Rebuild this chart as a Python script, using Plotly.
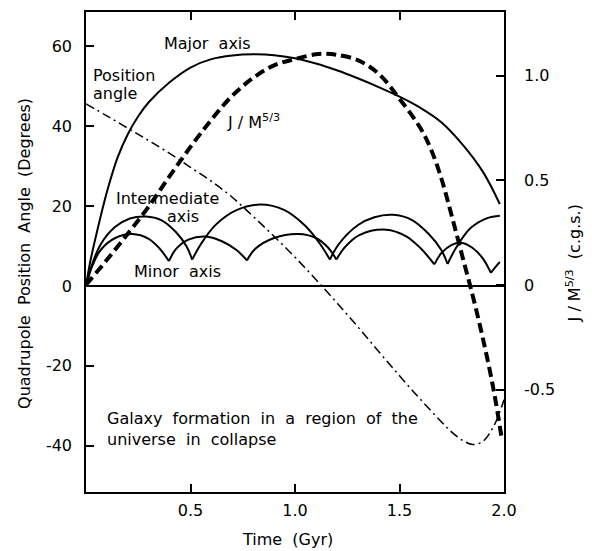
import plotly.graph_objects as go

# ---- data ----
major_x = [0, 0.02, 0.05, 0.1, 0.15, 0.2, 0.25, 0.3, 0.4, 0.5, 0.6, 0.7, 0.8, 0.9, 1.0, 1.1, 1.2, 1.3, 1.4, 1.5, 1.6, 1.7, 1.8, 1.9, 1.98]
major_y = [0, 6, 13, 23.5, 32, 38, 42.5, 46, 51, 54.7, 56.8, 57.7, 58, 57.8, 57, 55.7, 54, 52, 49.8, 47.4, 44.6, 41, 35.5, 28.5, 20.5]

# intermediate axis: arcs between cusps
inter_arcs_x = [
    [0, 0.03, 0.07, 0.14, 0.21, 0.286, 0.36, 0.43, 0.48, 0.508],
    [0.508, 0.55, 0.62, 0.72, 0.833, 0.95, 1.05, 1.12, 1.167],
    [1.167, 1.21, 1.3, 1.38, 1.468, 1.56, 1.64, 1.7, 1.73],
    [1.73, 1.77, 1.84, 1.92, 1.98],
]
inter_arcs_y = [
    [0, 5.5, 10.4, 14.8, 16.9, 17.4, 16.5, 13.5, 10, 6.6],
    [6.6, 10.5, 15.3, 19, 20.4, 19, 15, 10.5, 6.6],
    [6.6, 10.5, 15.2, 17.2, 17.8, 16.5, 13, 9, 5.5],
    [5.5, 9.5, 14.5, 17, 17.6],
]

# minor axis: arcs between cusps
minor_arcs_x = [
    [0, 0.03, 0.07, 0.14, 0.222, 0.3, 0.35, 0.397],
    [0.397, 0.43, 0.49, 0.571, 0.65, 0.72, 0.77],
    [0.77, 0.81, 0.9, 1.016, 1.1, 1.16, 1.198],
    [1.198, 1.24, 1.31, 1.436, 1.53, 1.6, 1.667],
    [1.667, 1.7, 1.75, 1.794, 1.85, 1.9, 1.937],
    [1.937, 1.96, 1.98],
]
minor_arcs_y = [
    [0, 5, 9, 12, 13.0, 11.8, 9.5, 6.2],
    [6.2, 9.2, 11.6, 12.4, 11.2, 9, 6.4],
    [6.4, 9.3, 12, 13.0, 12, 9.5, 6.6],
    [6.6, 9.8, 12.8, 14.1, 12.5, 9.5, 5.4],
    [5.4, 8.2, 10.3, 10.8, 9.5, 6.8, 3.3],
    [3.3, 4.8, 6],
]

pos_x = [0, 0.1, 0.2, 0.3, 0.4, 0.5, 0.6, 0.7, 0.8, 0.9, 1.0, 1.1, 1.2, 1.3, 1.4, 1.5, 1.6, 1.7, 1.75, 1.8, 1.85, 1.9, 1.95, 1.98, 2.0]
pos_y = [45.6, 42.6, 39.5, 36.4, 33.2, 29.7, 26.2, 22.2, 17.4, 12.4, 7.2, 1.6, -4.2, -10.2, -16.4, -22.5, -28.4, -34.0, -36.6, -38.6, -39.7, -38.9, -35.2, -31.5, -28.5]

j_x = [0, 0.1, 0.2, 0.3, 0.4, 0.5, 0.6, 0.7, 0.8, 0.9, 1.0, 1.1, 1.15, 1.2, 1.3, 1.4, 1.5, 1.6, 1.65, 1.7, 1.75, 1.8, 1.85, 1.9, 1.95, 1.99]
j_y = [0, 0.12, 0.245, 0.375, 0.52, 0.66, 0.79, 0.905, 0.99, 1.05, 1.08, 1.103, 1.105, 1.10, 1.075, 1.01, 0.89, 0.75, 0.65, 0.51, 0.33, 0.14, -0.05, -0.26, -0.5, -0.74]

x_ticks = [0.5, 1.0, 1.5, 2.0]
x_ticklabels = ["0.5", "1.0", "1.5", "2.0"]
yl_ticks = [-40, -20, 0, 20, 40, 60]
yl_ticklabels = ["-40", "-20", "0", "20", "40", "60"]
yr_ticks = [-0.5, 0, 0.5, 1.0]
yr_ticklabels = ["-0.5", "0", "0.5", "1.0"]


def join(arcs):
    out = []
    for i, a in enumerate(arcs):
        if i:
            out.append(None)
        out.extend(a)
    return out


FONT = "DejaVu Sans"
solid = dict(color="black", width=2)

fig = go.Figure()
fig.add_trace(go.Scatter(x=major_x, y=major_y, mode="lines", line=dict(shape="spline", **solid)))
fig.add_trace(go.Scatter(x=join(inter_arcs_x), y=join(inter_arcs_y), mode="lines",
                         line=dict(shape="spline", **solid), connectgaps=False))
fig.add_trace(go.Scatter(x=join(minor_arcs_x), y=join(minor_arcs_y), mode="lines",
                         line=dict(shape="spline", **solid), connectgaps=False))
fig.add_trace(go.Scatter(x=pos_x, y=pos_y, mode="lines",
                         line=dict(color="black", width=1.5, dash="9px,4px,2px,4px", shape="spline")))
fig.add_trace(go.Scatter(x=j_x, y=j_y, mode="lines", yaxis="y2",
                         line=dict(color="black", width=4, dash="10px,5px", shape="spline")))

ann = []
def txt(x, y, s, xanchor="center", xref="x", yref="y", angle=0, size=16):
    ann.append(dict(x=x, y=y, text=s, showarrow=False, xref=xref, yref=yref,
                    xanchor=xanchor, yanchor="middle", textangle=angle,
                    font=dict(family=FONT, size=size, color="black")))

txt(0.579, 60.6, "Major  axis")
txt(0.024, 52.8, "Position", "left")
txt(0.024, 48.1, "angle", "left")
txt(0.665, 41.1, "J / M<sup>5/3</sup>", "left")
txt(0.392, 21.9, "Intermediate")
txt(0.464, 17.5, "axis")
txt(0.438, 3.7, "Minor  axis")
txt(0.091, -33.2, "Galaxy  formation  in  a  region  of  the", "left")
txt(0.091, -38.4, "universe  in  collapse", "left")
txt(-0.146, 0.498, "Quadrupole  Position  Angle  (Degrees)", xref="paper", yref="paper", angle=-90)
txt(1.166, 0.477, "J / M<sup>5/3</sup>  (c.g.s.)", xref="paper", yref="paper", angle=-90)
txt(0.483, -0.0996, "Time  (Gyr)", xref="paper", yref="paper")

# page has an 8px body margin: figure sized so the plot area sits at the reference's pixels
fig.update_layout(
    width=584, height=543,
    margin=dict(l=78, r=88, t=2, b=59),
    paper_bgcolor="white", plot_bgcolor="white",
    showlegend=False,
    font=dict(family=FONT, size=16, color="black"),
    annotations=ann,
    xaxis=dict(range=[0, 2], tickvals=x_ticks, ticktext=x_ticklabels, ticks="inside", ticklen=8,
               tickwidth=1.5, tickcolor="black", showline=True, linecolor="black", linewidth=1.5,
               mirror="ticks", showgrid=False, zeroline=False, ticklabelstandoff=3),
    yaxis=dict(range=[-51.6, 68.6], tickvals=yl_ticks, ticktext=yl_ticklabels, ticks="inside",
               ticklen=8, tickwidth=1.5,
               tickcolor="black", showline=True, linecolor="black", linewidth=1.5, mirror=True,
               showgrid=False, zeroline=True, zerolinecolor="black", zerolinewidth=1.5,
               ticklabelstandoff=9),
    yaxis2=dict(range=[-0.990, 1.305], overlaying="y", side="right", tickvals=yr_ticks,
                ticktext=yr_ticklabels, ticks="inside", ticklen=8, tickwidth=1.5, tickcolor="black",
                showline=False, showgrid=False, zeroline=False, ticklabelstandoff=19),
)

fig.write_html("out.html")
